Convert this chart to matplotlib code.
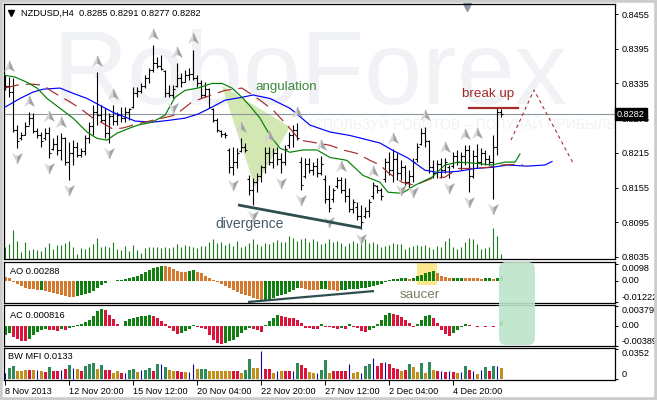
import numpy as np
import matplotlib.pyplot as plt
from matplotlib.path import Path
from matplotlib.patches import Polygon, Rectangle, FancyBboxPatch
from matplotlib.transforms import blended_transform_factory, offset_copy, IdentityTransform

plt.rcParams['font.family'] = ['Liberation Sans', 'DejaVu Sans']

## NZDUSD H4 bars
highs = [0.8349, 0.8346, 0.8344, 0.8263, 0.8251, 0.8268, 0.8285, 0.8284, 0.8258, 0.8251,
         0.8258, 0.8259, 0.8240, 0.8245, 0.8249, 0.8242, 0.8233, 0.8237, 0.8233, 0.8223,
         0.8245, 0.8268, 0.8297, 0.8354, 0.8297, 0.8292, 0.8284, 0.8297, 0.8285, 0.8294,
         0.8294, 0.8292, 0.8328, 0.8328, 0.8335, 0.8349, 0.8361, 0.8401, 0.8380, 0.8384,
         0.8358, 0.8332, 0.8332, 0.8370, 0.8353, 0.8358, 0.8361, 0.8393, 0.8349, 0.8341,
         0.8337, 0.8327, 0.8292, 0.8275, 0.8254, 0.8251, 0.8223, 0.8225, 0.8223, 0.8240,
         0.8232, 0.8176, 0.8171, 0.8180, 0.8194, 0.8225, 0.8225, 0.8223, 0.8225, 0.8214,
         0.8228, 0.8251, 0.8263, 0.8266, 0.8207, 0.8206, 0.8206, 0.8199, 0.8206, 0.8209,
         0.8176, 0.8159, 0.8154, 0.8173, 0.8173, 0.8171, 0.8154, 0.8136, 0.8130, 0.8124,
         0.8121, 0.8136, 0.8164, 0.8159, 0.8155, 0.8206, 0.8216, 0.8221, 0.8214, 0.8202,
         0.8194, 0.8185, 0.8206, 0.8232, 0.8258, 0.8260, 0.8237, 0.8202, 0.8202, 0.8206,
         0.8206, 0.8194, 0.8216, 0.8220, 0.8216, 0.8228, 0.8228, 0.8220, 0.8230, 0.8223,
         0.8220, 0.8211, 0.8245, 0.8292, 0.8291]
lows = [0.8323, 0.8311, 0.8251, 0.8223, 0.8237, 0.8245, 0.8263, 0.8249, 0.8240, 0.8225,
        0.8237, 0.8206, 0.8220, 0.8211, 0.8202, 0.8194, 0.8168, 0.8194, 0.8207, 0.8207,
        0.8211, 0.8232, 0.8245, 0.8263, 0.8268, 0.8240, 0.8232, 0.8263, 0.8263, 0.8268,
        0.8268, 0.8271, 0.8292, 0.8311, 0.8318, 0.8327, 0.8335, 0.8354, 0.8361, 0.8358,
        0.8311, 0.8311, 0.8309, 0.8328, 0.8328, 0.8337, 0.8341, 0.8341, 0.8328, 0.8309,
        0.8311, 0.8292, 0.8268, 0.8251, 0.8242, 0.8240, 0.8181, 0.8176, 0.8188, 0.8216,
        0.8216, 0.8142, 0.8124, 0.8147, 0.8164, 0.8181, 0.8194, 0.8188, 0.8194, 0.8181,
        0.8194, 0.8223, 0.8225, 0.8237, 0.8150, 0.8171, 0.8181, 0.8176, 0.8173, 0.8176,
        0.8128, 0.8112, 0.8130, 0.8154, 0.8145, 0.8130, 0.8112, 0.8111, 0.8099, 0.8083,
        0.8102, 0.8104, 0.8136, 0.8145, 0.8133, 0.8164, 0.8176, 0.8164, 0.8168, 0.8168,
        0.8159, 0.8154, 0.8164, 0.8199, 0.8228, 0.8225, 0.8181, 0.8171, 0.8171, 0.8171,
        0.8181, 0.8171, 0.8188, 0.8194, 0.8185, 0.8194, 0.8147, 0.8171, 0.8188, 0.8194,
        0.8194, 0.8194, 0.8136, 0.8211, 0.8277]
opens = [0.8340, 0.8330, 0.8320, 0.8255, 0.8240, 0.8245, 0.8262, 0.8275, 0.8252, 0.8245,
         0.8240, 0.8250, 0.8222, 0.8230, 0.8220, 0.8240, 0.8200, 0.8215, 0.8225, 0.8212,
         0.8218, 0.8240, 0.8262, 0.8285, 0.8280, 0.8272, 0.8250, 0.8278, 0.8270, 0.8280,
         0.8275, 0.8285, 0.8294, 0.8318, 0.8322, 0.8330, 0.8345, 0.8358, 0.8370, 0.8365,
         0.8356, 0.8318, 0.8315, 0.8330, 0.8345, 0.8338, 0.8350, 0.8352, 0.8345, 0.8335,
         0.8315, 0.8325, 0.8290, 0.8272, 0.8252, 0.8248, 0.8220, 0.8190, 0.8200, 0.8218,
         0.8225, 0.8170, 0.8150, 0.8165, 0.8175, 0.8190, 0.8215, 0.8200, 0.8215, 0.8205,
         0.8200, 0.8228, 0.8245, 0.8255, 0.8200, 0.8175, 0.8195, 0.8185, 0.8192, 0.8180,
         0.8170, 0.8135, 0.8135, 0.8158, 0.8168, 0.8150, 0.8140, 0.8118, 0.8122, 0.8105,
         0.8105, 0.8115, 0.8140, 0.8158, 0.8150, 0.8170, 0.8200, 0.8185, 0.8205, 0.8180,
         0.8190, 0.8165, 0.8175, 0.8205, 0.8230, 0.8250, 0.8235, 0.8190, 0.8180, 0.8195,
         0.8185, 0.8190, 0.8192, 0.8210, 0.8200, 0.8210, 0.8220, 0.8175, 0.8210, 0.8200,
         0.8215, 0.8205, 0.8200, 0.8225, 0.8285]
closes = [0.8330, 0.8320, 0.8255, 0.8235, 0.8245, 0.8262, 0.8275, 0.8252, 0.8245, 0.8235,
          0.8250, 0.8215, 0.8230, 0.8220, 0.8240, 0.8200, 0.8215, 0.8225, 0.8212, 0.8218,
          0.8240, 0.8262, 0.8285, 0.8280, 0.8272, 0.8250, 0.8278, 0.8270, 0.8280, 0.8275,
          0.8285, 0.8290, 0.8318, 0.8322, 0.8330, 0.8345, 0.8358, 0.8370, 0.8365, 0.8360,
          0.8318, 0.8315, 0.8326, 0.8345, 0.8338, 0.8350, 0.8352, 0.8345, 0.8335, 0.8315,
          0.8325, 0.8295, 0.8272, 0.8255, 0.8248, 0.8245, 0.8190, 0.8200, 0.8215, 0.8225,
          0.8220, 0.8150, 0.8165, 0.8175, 0.8190, 0.8215, 0.8200, 0.8215, 0.8205, 0.8200,
          0.8222, 0.8245, 0.8255, 0.8240, 0.8160, 0.8195, 0.8185, 0.8192, 0.8180, 0.8195,
          0.8135, 0.8120, 0.8150, 0.8168, 0.8150, 0.8140, 0.8118, 0.8130, 0.8105, 0.8095,
          0.8115, 0.8130, 0.8160, 0.8150, 0.8140, 0.8200, 0.8185, 0.8205, 0.8180, 0.8190,
          0.8165, 0.8175, 0.8200, 0.8225, 0.8250, 0.8235, 0.8190, 0.8180, 0.8195, 0.8185,
          0.8200, 0.8180, 0.8210, 0.8200, 0.8210, 0.8220, 0.8175, 0.8210, 0.8200, 0.8215,
          0.8205, 0.8200, 0.8225, 0.8285, 0.8282]
volumes = [1200, 1500, 2900, 1800, 700, 1700, 900, 1000, 900, 800,
           1200, 1600, 1000, 1400, 1400, 1600, 1800, 1200, 500, 1100,
           1000, 1200, 1500, 2100, 1200, 1300, 1200, 1700, 1000, 900,
           1300, 800, 1400, 900, 600, 1100, 1200, 1200, 1200, 1100,
           1200, 1100, 1200, 1500, 1200, 1400, 1300, 1200, 1100, 1300,
           1300, 1700, 2000, 1600, 1700, 1400, 1600, 1300, 1800, 1200,
           1300, 1600, 2000, 1500, 1300, 1600, 1500, 1700, 1900, 1700,
           1700, 2300, 2100, 1800, 2000, 2100, 1700, 2000, 1800, 1500,
           1600, 2000, 1700, 1800, 1600, 1300, 1600, 1800, 1600, 1900,
           2000, 1600, 1700, 1500, 1200, 1300, 1400, 1600, 1500, 1500,
           1000, 1200, 1300, 1400, 1300, 1400, 1200, 1000, 1300, 1200,
           1800, 2100, 1200, 1000, 1200, 1700, 2100, 2000, 1500, 1000,
           1100, 1200, 3100, 2300, 500]

## Alligator lines (bar index, price), already shifted forward
jaw_x = [0, 3.75, 7, 9.5, 13.75, 17, 20.5, 23.75, 27, 30.75, 32.5, 36.75, 40.75, 45, 48.25,
         51.75, 55, 59.25, 62, 66.25, 71.25, 76.25, 81.25, 86.25, 93.75, 96.75, 100.75, 105,
         108.25, 113.25, 117.5, 121.75, 125.75, 130.5, 135, 136.75]
jaw_y = [0.8294, 0.8309, 0.8320, 0.8325, 0.8327, 0.8318, 0.8309, 0.8297, 0.8285, 0.8275,
         0.8270, 0.8268, 0.8271, 0.8275, 0.8282, 0.8294, 0.8306, 0.8311, 0.8315, 0.8309,
         0.8292, 0.8263, 0.8251, 0.8245, 0.8232, 0.8220, 0.8206, 0.8185, 0.8181, 0.8183,
         0.8188, 0.8190, 0.8194, 0.8192, 0.8194, 0.8200]
teeth_x = [0, 3, 6.25, 9.5, 12, 16.25, 18.75, 22, 24.5, 27, 29.5, 32.5, 36.75, 42.5, 46.75,
           50, 55, 59.25, 63.75, 67, 70.5, 73.75, 78, 81.25, 84.5, 88, 91.25, 93.75, 95.75,
           99.25, 102.5, 106.75, 110, 113.25, 117.5, 120.75, 124.25, 127.5, 129.5]
teeth_y = [0.8327, 0.8332, 0.8334, 0.8332, 0.8320, 0.8303, 0.8292, 0.8275, 0.8266, 0.8256,
           0.8258, 0.8264, 0.8271, 0.8280, 0.8303, 0.8311, 0.8323, 0.8327, 0.8306, 0.8289,
           0.8263, 0.8237, 0.8232, 0.8228, 0.8220, 0.8214, 0.8202, 0.8194, 0.8181, 0.8164,
           0.8159, 0.8171, 0.8173, 0.8188, 0.8188, 0.8190, 0.8194, 0.8195, 0.8194]
lips_x = [0, 2.5, 5.5, 8, 10.5, 13.75, 17, 20.5, 23, 25.5, 28, 31.25, 33.25, 36.75, 40, 42.5,
          45, 48.25, 51.75, 54.25, 56.75, 59.25, 61.25, 63.75, 66.25, 68.75, 71.25, 74.5, 78,
          81.25, 85.5, 89.5, 93.75, 95.75, 99.25, 102.5, 106.75, 110, 113.25, 117.5, 121.75,
          125, 127.5, 128.75]
lips_y = [0.8349, 0.8346, 0.8337, 0.8327, 0.8309, 0.8292, 0.8275, 0.8251, 0.8240, 0.8237,
          0.8249, 0.8258, 0.8263, 0.8268, 0.8280, 0.8311, 0.8323, 0.8327, 0.8335, 0.8335,
          0.8327, 0.8311, 0.8296, 0.8275, 0.8245, 0.8223, 0.8216, 0.8220, 0.8220, 0.8207,
          0.8202, 0.8176, 0.8164, 0.8147, 0.8145, 0.8159, 0.8173, 0.8194, 0.8199, 0.8197,
          0.8194, 0.8199, 0.8199, 0.8213]

## Fractals (bar indexes)
up_fractals = [1, 6, 11, 14, 23, 27, 37, 43, 47, 59, 66, 73, 79, 84, 92, 97, 105, 110, 115, 118]
down_fractals = [3, 11, 16, 26, 42, 57, 62, 69, 74, 81, 89, 99, 102, 111, 116, 122]

## Awesome Oscillator
ao = [0.0023, 0.0014, -0.0010, -0.0021, -0.0031, -0.0041, -0.0046, -0.0048, -0.0055, -0.0053,
      -0.0060, -0.0068, -0.0073, -0.0079, -0.0083, -0.0087, -0.0092, -0.0094, -0.0091, -0.0085,
      -0.0079, -0.0071, -0.0060, -0.0041, -0.0025, -0.0012, -0.0004, -0.0001, 0.0002, 0.0004,
      0.0008, 0.0014, 0.0021, 0.0029, 0.0039, 0.0052, 0.0062, 0.0071, 0.0079, 0.0087,
      0.0085, 0.0077, 0.0068, 0.0058, 0.0052, 0.0050, 0.0056, 0.0060, 0.0052, 0.0042,
      0.0029, 0.0017, 0.0006, -0.0006, -0.0017, -0.0031, -0.0044, -0.0056, -0.0066, -0.0075,
      -0.0083, -0.0091, -0.0098, -0.0106, -0.0112, -0.0110, -0.0106, -0.0098, -0.0091, -0.0083,
      -0.0075, -0.0064, -0.0054, -0.0040, -0.0043, -0.0048, -0.0052, -0.0054, -0.0056, -0.0050,
      -0.0047, -0.0052, -0.0055, -0.0057, -0.0055, -0.0052, -0.0050, -0.0048, -0.0046, -0.0044,
      -0.0041, -0.0036, -0.0031, -0.0025, -0.0017, -0.0008, 0.0003, 0.0008, 0.0010, 0.0015,
      0.0017, 0.0011, 0.0016, 0.0025, 0.0034, 0.0042, 0.0050, 0.0055, 0.0043, 0.0030,
      0.0020, 0.0015, 0.0016, 0.0017, 0.0018, 0.0016, 0.0015, 0.0014, 0.0013, 0.0012,
      0.0013, 0.0014, 0.0012, 0.0018, 0.0029]

## Accelerator Oscillator
ac = [-0.0018, -0.0015, -0.0021, -0.0026, -0.0029, -0.0030, -0.0025, -0.0018, -0.0013, -0.0009,
      -0.0006, -0.0008, -0.0009, -0.0010, -0.0007, -0.0009, -0.0005, -0.0003, 0.0001, 0.0004,
      0.0006, 0.0011, 0.0018, 0.0027, 0.0032, 0.0030, 0.0021, 0.0013, 0.0004, -0.0001,
      0.0008, 0.0012, 0.0015, 0.0017, 0.0018, 0.0019, 0.0020, 0.0019, 0.0015, 0.0009,
      0.0004, -0.0005, -0.0011, -0.0016, -0.0015, -0.0011, -0.0006, 0.0002, -0.0002, -0.0004,
      -0.0006, -0.0018, -0.0027, -0.0033, -0.0035, -0.0034, -0.0030, -0.0027, -0.0021, -0.0015,
      -0.0009, -0.0005, -0.0006, -0.0009, -0.0013, 0.0001, 0.0008, 0.0015, 0.0021, 0.0019,
      0.0017, 0.0015, 0.0014, 0.0011, 0.0005, -0.0004, -0.0005, -0.0006, -0.0007, 0.0003,
      -0.0002, -0.0003, -0.0005, -0.0006, -0.0004, -0.0006, 0.0004, -0.0002, -0.0005, -0.0010,
      -0.0013, -0.0008, -0.0004, 0.0004, 0.0011, 0.0020, 0.0024, 0.0023, 0.0021, 0.0017,
      0.0011, 0.0005, -0.0002, 0.0004, 0.0011, 0.0019, 0.0021, 0.0014, 0.0005, -0.0008,
      -0.0016, -0.0019, -0.0014, -0.0008, -0.0003, 0.0003, 0.0001, -0.0001, -0.0002, -0.0001,
      -0.0002, -0.0001, -0.0002, 0.0000, 0.0008]

## BW MFI, colour codes: g green, f fade, b fake, s squat
mfi = [0.0069, 0.0130, 0.0150, 0.0097, 0.0097, 0.0109, 0.0109, 0.0109, 0.0109, 0.0097,
       0.0081, 0.0142, 0.0089, 0.0089, 0.0109, 0.0122, 0.0158, 0.0130, 0.0122, 0.0089,
       0.0150, 0.0170, 0.0190, 0.0122, 0.0162, 0.0109, 0.0109, 0.0069, 0.0089, 0.0069,
       0.0069, 0.0109, 0.0122, 0.0081, 0.0109, 0.0109, 0.0130, 0.0089, 0.0170, 0.0170,
       0.0138, 0.0109, 0.0097, 0.0089, 0.0081, 0.0081, 0.0081, 0.0170, 0.0122, 0.0122,
       0.0122, 0.0097, 0.0097, 0.0097, 0.0097, 0.0097, 0.0097, 0.0097, 0.0097, 0.0069,
       0.0109, 0.0231, 0.0130, 0.0130, 0.0332, 0.0122, 0.0122, 0.0069, 0.0097, 0.0097,
       0.0097, 0.0097, 0.0097, 0.0190, 0.0158, 0.0130, 0.0077, 0.0069, 0.0069, 0.0109,
       0.0219, 0.0069, 0.0097, 0.0097, 0.0089, 0.0089, 0.0170, 0.0069, 0.0081, 0.0069,
       0.0150, 0.0170, 0.0251, 0.0150, 0.0182, 0.0203, 0.0178, 0.0130, 0.0122, 0.0097,
       0.0109, 0.0178, 0.0138, 0.0081, 0.0190, 0.0069, 0.0203, 0.0109, 0.0089, 0.0089,
       0.0081, 0.0097, 0.0081, 0.0069, 0.0081, 0.0150, 0.0109, 0.0097, 0.0057, 0.0109,
       0.0138, 0.0097, 0.0150, 0.0150, 0.0133]
mfi_codes = ("bggfffsfbf" "sgssbsgbfs" "gggfgssffs" "bggfbggsgb" "gffssfbbfg"
             "gffffffssf" "ggffbssfbf" "ssbgssffbg" "gfssssbffb" "ggbssbsssf"
             "sgffgfgfsb" "sbsfbgsbfb" "gsgbf")

price_ticks = [0.8455, 0.8395, 0.8335, 0.8275, 0.8215, 0.8155, 0.8095, 0.8035]
date_ticks = [0, 16, 32, 48, 64, 80, 96, 112]
date_labels = ['8 Nov 2013', '12 Nov 20:00', '15 Nov 12:00', '20 Nov 04:00',
               '22 Nov 20:00', '27 Nov 12:00', '2 Dec 04:00', '4 Dec 20:00']
last_price = 0.8282


## Figure layout, done in pixels of the 657x400 picture
W, H = 657, 400
fig = plt.figure(figsize=(W / 100, H / 100), dpi=100)

def px_box(x0, y0, x1, y1):
    return [x0 / W, 1 - y1 / H, (x1 - x0) / W, (y1 - y0) / H]

ax = fig.add_axes(px_box(4, 4, 615, 259))
ax_ao = fig.add_axes(px_box(4, 262, 615, 303))
ax_ac = fig.add_axes(px_box(4, 305, 615, 346))
ax_mfi = fig.add_axes(px_box(4, 348, 615, 380))

for a in (ax, ax_ao, ax_ac, ax_mfi):
    a.set_xlim(-0.25, 152.5)
    for s in a.spines.values():
        s.set_linewidth(0.9)
        s.set_color('black')
    a.yaxis.tick_right()
    a.tick_params(axis='y', length=2.5, width=0.7, pad=2, labelsize=6.6)
    a.tick_params(axis='x', length=0, labelbottom=False)

idx = np.arange(len(highs))

## Main price panel
ax.set_ylim(0.80315, 0.84723)
ax.set_yticks(price_ticks)
ax.set_yticklabels(['%.4f' % p for p in price_ticks])

# watermark
ax.text(0.08, 0.61, 'RoboForex', transform=ax.transAxes, fontsize=75,
        color='#f0f2f5', zorder=0)
ax.text(0.49, 0.525, 'ИСПОЛЬЗУЙ РОБОТОВ – ПОЛУЧАЙ ПРИБЫЛЬ', transform=ax.transAxes,
        fontsize=10, color='#f0f2f5', va='center', zorder=0)

# volumes at the bottom of the price panel
vol_tr = blended_transform_factory(ax.transData, ax.transAxes)
ax.vlines(idx, 0, np.array(volumes) / 25500, transform=vol_tr, color='#1e7b1e', lw=0.8)

# angulation fan
ax.add_patch(Polygon([(54.25, 0.83306), (71.25, 0.82597), (62.5, 0.81560)],
                     closed=True, fc='#d3e7b2', ec='none', zorder=0.8))

ax.axhline(last_price, color='#8c96a0', lw=0.8, zorder=1)

# OHLC bars
ax.vlines(idx, lows, highs, color='black', lw=0.8, zorder=3)
ax.hlines(opens, idx - 0.4, idx, color='black', lw=0.8, zorder=3)
ax.hlines(closes, idx, idx + 0.4, color='black', lw=0.8, zorder=3)

# alligator
ax.plot(jaw_x, jaw_y, color='#0000ff', lw=0.85, zorder=4)
ax.plot(teeth_x, teeth_y, color='#a52a2a', lw=0.85, dashes=(12, 6), zorder=4)
ax.plot(lips_x, lips_y, color='#008000', lw=0.85, zorder=4)

# fractal arrows, two-tone
up_l = Path([(0, 1), (0, -0.15), (-0.75, -0.6), (0, 1)])
up_r = Path([(0, 1), (0.75, -0.6), (0, -0.15), (0, 1)])
dn_l = Path([(0, -1), (0, 0.15), (-0.75, 0.6), (0, -1)])
dn_r = Path([(0, -1), (0.75, 0.6), (0, 0.15), (0, -1)])
up_tr = offset_copy(ax.transData, fig=fig, y=7.5, units='points')
dn_tr = offset_copy(ax.transData, fig=fig, y=-6.5, units='points')
up_y = [highs[i] for i in up_fractals]
dn_y = [lows[i] for i in down_fractals]
for mk, col in ((up_l, '#d6d6d6'), (up_r, '#a2a2a2')):
    ax.plot(up_fractals, up_y, ls='none', marker=mk, ms=9.5, mfc=col, mec=col, mew=0.3,
            transform=up_tr, zorder=5)
for mk, col in ((dn_l, '#d6d6d6'), (dn_r, '#a2a2a2')):
    ax.plot(down_fractals, dn_y, ls='none', marker=mk, ms=9.5, mfc=col, mec=col, mew=0.3,
            transform=dn_tr, zorder=5)

# annotations
ax.text(62.5, 0.8329, 'angulation', color='#3c8a3c', fontsize=9.6, va='center', zorder=6)
ax.plot([58.25, 89.25], [0.81249, 0.80851], color='#2f4f4f', lw=2.0,
        solid_capstyle='butt', zorder=6)
ax.text(52.5, 0.8092, 'divergence', color='#475a66', fontsize=10, va='center', zorder=6)
ax.text(114.25, 0.8317, 'break up', color='#a02828', fontsize=9.6, va='center', zorder=6)
ax.plot([116, 128.25], [0.82925, 0.82925], color='#a52a2a', lw=1.6, zorder=6)
ax.plot([126.5, 132.25, 142], [0.82372, 0.83236, 0.81975], color='#a03030', lw=0.8,
        dashes=(3, 3), zorder=6)

# chart shift marker and symbol header
top_tr = blended_transform_factory(ax.transData, ax.transAxes)
ax.plot([115.5], [0.99], marker='v', color='#8a96a4', ms=6, transform=top_tr, clip_on=False)
ax.plot([0.0115], [0.965], marker='v', color='black', ms=4, transform=ax.transAxes)
ax.text(0.028, 0.965, 'NZDUSD,H4  0.8285 0.8291 0.8277 0.8282', transform=ax.transAxes,
        fontsize=6.7, va='center')

# last price box
ax.text(1.003, last_price, '%.4f' % last_price,
        transform=blended_transform_factory(ax.transAxes, ax.transData),
        color='white', fontsize=6.6, va='center', ha='left', clip_on=False, zorder=10,
        bbox=dict(boxstyle='square,pad=0.2', fc='black', ec='black'))

## AO panel
ao_cols = ['#d47a2e'] + ['#117f11' if ao[i] > ao[i - 1] else '#d47a2e' for i in range(1, len(ao))]
ax_ao.set_ylim(-0.01293, 0.01085)
ax_ao.add_patch(Rectangle((103, -0.0025), 5, 0.0140, fc='#fce98c', ec='none', zorder=0.5))
ax_ao.bar(idx, ao, width=0.75, color=ao_cols, lw=0, zorder=2)
ax_ao.plot([60.75, 92.25], [-0.01235, -0.0060], color='#2f4f4f', lw=1.6,
           solid_capstyle='butt', zorder=3)
ax_ao.text(103.75, -0.0083, 'saucer', ha='center', va='center', color='#7a7a62',
           fontsize=9.6, zorder=3)
ax_ao.set_yticks([0.0098, 0, -0.01222])
ax_ao.set_yticklabels(['0.0098', '0.00', '-0.01222'])
ax_ao.text(0.01, 0.78, 'AO 0.00288', transform=ax_ao.transAxes, fontsize=6.7, va='center')

## AC panel
ac_cols = ['#117f11'] + ['#117f11' if ac[i] > ac[i - 1] else '#dc143c' for i in range(1, len(ac))]
ax_ac.set_ylim(-0.00386, 0.00393)
ax_ac.bar(idx, ac, width=0.75, color=ac_cols, lw=0, zorder=2)
ax_ac.set_yticks([0.003795, 0, -0.00389])
ax_ac.set_yticklabels(['0.003795', '0.00', '-0.00389'])
ax_ac.text(0.01, 0.75, 'AC 0.000816', transform=ax_ac.transAxes, fontsize=6.7, va='center')

## BW MFI panel
mfi_colors = {'g': '#2e8b57', 'f': '#c0901a', 's': '#dc143c'}
for code, col in mfi_colors.items():
    sel = [i for i, c in enumerate(mfi_codes) if c == code]
    ax_mfi.bar(sel, [mfi[i] for i in sel], width=0.75, color=col, lw=0)
fake = [i for i, c in enumerate(mfi_codes) if c == 'b']
ax_mfi.vlines(fake, 0, [mfi[i] for i in fake], color='#0a0a9a', lw=0.8)
ax_mfi.set_ylim(-0.0012, 0.0363)
ax_mfi.set_yticks([0.0352, 0])
ax_mfi.set_yticklabels(['0.0352', '0'])
ax_mfi.text(0.007, 0.72, 'BW MFI 0.0133', transform=ax_mfi.transAxes, fontsize=6.7, va='center')

ax_mfi.set_xticks(date_ticks)
ax_mfi.set_xticklabels(date_labels, ha='left')
ax_mfi.tick_params(axis='x', length=3.5, width=0.7, labelbottom=True, labelsize=6.6, pad=1.5)

# label alignment on the oscillator scales (top / middle / bottom)
for a, vas in ((ax_ao, ['top', 'center', 'bottom']), (ax_ac, ['top', 'center', 'bottom']),
               (ax_mfi, ['top', 'bottom'])):
    for lab, va in zip(a.get_yticklabels(), vas):
        lab.set_verticalalignment(va)

## Green highlight across AO / AC, and the window frame
fig.add_artist(FancyBboxPatch((499, 55), 36, 83, boxstyle='round,pad=0,rounding_size=7',
                              transform=IdentityTransform(), fc='#bce5c9', ec='none',
                              alpha=0.9, zorder=5))
fig.add_artist(Rectangle((0, 0), 1, 1, transform=fig.transFigure, fill=False,
                         ec='#cccccc', lw=4))

fig.savefig('out.png', dpi=100)
